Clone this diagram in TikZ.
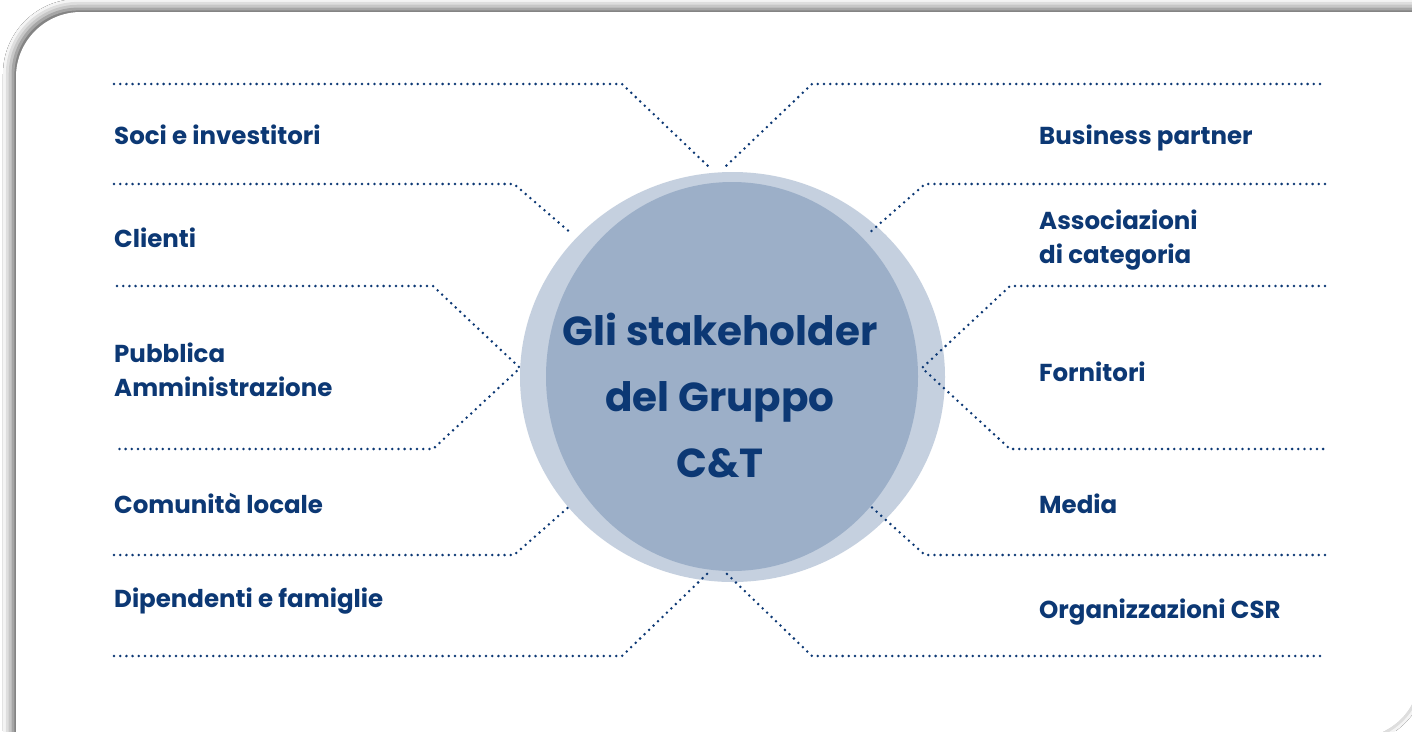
\documentclass[tikz,border=0pt]{standalone}
\usepackage{fontspec}
\setmainfont{Poppins}[BoldFont={Poppins Bold}]
\usetikzlibrary{shadows.blur,shapes.geometric}
\definecolor{navy}{RGB}{12,56,116}
\definecolor{ringlight}{RGB}{197,208,223}
\definecolor{ringdark}{RGB}{156,175,200}
\tikzset{
  dotline/.style={draw=navy, line width=2.8pt, line cap=round, dash pattern=on 0pt off 6.2pt},
  lbl/.style={anchor=base west, inner sep=0pt, text=navy, font=\bfseries\fontsize{24.5}{34}\selectfont, align=left},
  title/.style={text=navy, font=\bfseries\fontsize{40.5}{66}\selectfont, align=center, inner sep=0pt}
}
\begin{document}
\begin{tikzpicture}[x=1pt,y=-1pt]
\useasboundingbox (0,0) rectangle (1412,731);
\clip (0,0) rectangle (1412,731);
% card with blurred shadow
\fill[white] (0,0) rectangle (1412,731);
\path[fill=white, blur shadow={shadow xshift=-3pt, shadow yshift=3pt, shadow blur radius=10pt, shadow opacity=70}]
  (16,760) -- (16,77) arc[start angle=180, end angle=90, radius=65pt]
  -- (1420,12) -- (1420,673) arc[start angle=0, end angle=-90, radius=65pt]
  -- cycle;
% circles
\node[ellipse, fill=ringlight, minimum width=425pt, minimum height=410pt, inner sep=0pt] (ring) at (732.5,377) {};
\node[ellipse, fill=ringdark, minimum width=372pt, minimum height=389pt, inner sep=0pt] (core) at (732,376.5) {};
\node[title, anchor=base] (ttl) at (720,477) {Gli stakeholder\\del Gruppo\\C\&T};
% coordinates - left
\coordinate (L1a) at (114,84);  \coordinate (L1b) at (622,84);  \coordinate (L1c) at (709,167);
\coordinate (L2a) at (114,184); \coordinate (L2b) at (514,184); \coordinate (L2c) at (572,234);
\coordinate (L3a) at (117,286); \coordinate (L3b) at (433,286); \coordinate (L3c) at (520,368);
\coordinate (L3d) at (433,449); \coordinate (L3e) at (117,449);
\coordinate (L4a) at (114,555); \coordinate (L4b) at (514,555); \coordinate (L4c) at (572,504);
\coordinate (L5a) at (114,656); \coordinate (L5b) at (622,656); \coordinate (L5c) at (709,572);
% coordinates - right
\coordinate (R1a) at (1320,84);  \coordinate (R1b) at (812,84);  \coordinate (R1c) at (725,167);
\coordinate (R2a) at (1325,184); \coordinate (R2b) at (925,184); \coordinate (R2c) at (868,234);
\coordinate (R3a) at (1325,286); \coordinate (R3b) at (1010,286); \coordinate (R3c) at (922,368);
\coordinate (R3d) at (1010,449); \coordinate (R3e) at (1325,449);
\coordinate (R4a) at (1325,555); \coordinate (R4b) at (925,555); \coordinate (R4c) at (868,504);
\coordinate (R5a) at (1320,656); \coordinate (R5b) at (812,656); \coordinate (R5c) at (725,572);
% connectors
\draw[dotline] (L1a) -- (L1b) -- (L1c);
\draw[dotline] (L2a) -- (L2b) -- (L2c);
\draw[dotline] (L3a) -- (L3b) -- (L3c) -- (L3d) -- (L3e);
\draw[dotline] (L4a) -- (L4b) -- (L4c);
\draw[dotline] (L5a) -- (L5b) -- (L5c);
\draw[dotline] (R1a) -- (R1b) -- (R1c);
\draw[dotline] (R2a) -- (R2b) -- (R2c);
\draw[dotline] (R3a) -- (R3b) -- (R3c) -- (R3d) -- (R3e);
\draw[dotline] (R4a) -- (R4b) -- (R4c);
\draw[dotline] (R5a) -- (R5b) -- (R5c);
% labels left
\node[lbl] (soci) at (114,144) {Soci e investitori};
\node[lbl] (clienti) at (114,247) {Clienti};
\node[lbl] (pa) at (114,396) {Pubblica\\Amministrazione};
\node[lbl] (com) at (114,513) {Comunità locale};
\node[lbl] (dip) at (114,607) {Dipendenti e famiglie};
% labels right
\node[lbl] (bp) at (1039,144) {Business partner};
\node[lbl] (ass) at (1039,263) {Associazioni\\di categoria};
\node[lbl] (forn) at (1039,381) {Fornitori};
\node[lbl] (media) at (1039,513) {Media};
\node[lbl] (csr) at (1039,618) {Organizzazioni CSR};
\end{tikzpicture}
\end{document}
